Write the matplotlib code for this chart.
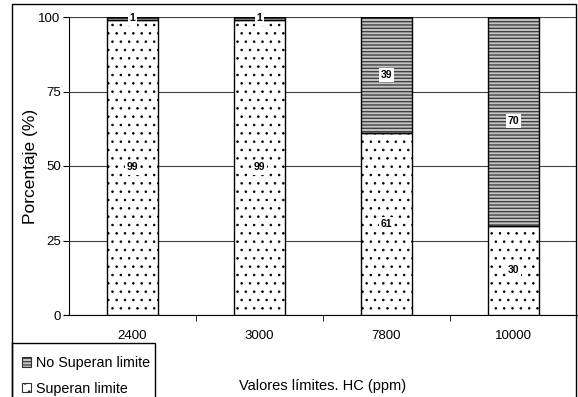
import numpy as np
import matplotlib
matplotlib.use('Agg')
import matplotlib.pyplot as plt
from matplotlib.patches import Rectangle, Patch

plt.rcParams['font.family'] = ['Liberation Sans', 'DejaVu Sans']

# datos
categorias = ['2400', '3000', '7800', '10000']
superan = [99, 99, 61, 30]
no_superan = [1, 1, 39, 70]
yticks = [0, 25, 50, 75, 100]

fig = plt.figure(figsize=(5.78, 3.97), dpi=100)
W, H = 578., 397.
ax = fig.add_axes([69 / W, 1 - 315 / H, 508 / W, 298 / H])

x = np.arange(len(categorias))
plt.rcParams['hatch.linewidth'] = 0.6
b1 = ax.bar(x, superan, width=0.4, color='white', edgecolor='black',
            hatch='..', linewidth=0, zorder=3)
plt.rcParams['hatch.linewidth'] = 1.0
b2 = ax.bar(x, no_superan, width=0.4, bottom=superan, color='#c4c4c4',
            edgecolor='#404040', hatch='-----', linewidth=0, zorder=3)
for r in b1:
    if hasattr(r, 'set_hatch_linewidth'):
        r.set_hatch_linewidth(0.6)
for r in b2:
    if hasattr(r, 'set_hatch_linewidth'):
        r.set_hatch_linewidth(1.0)
# contorno negro de cada segmento
for r in list(b1) + list(b2):
    ax.add_patch(Rectangle(r.get_xy(), r.get_width(), r.get_height(),
                           fill=False, edgecolor='black', lw=1.0, zorder=4))

lbl = dict(ha='center', va='center', fontsize=7.5, fontweight='bold', zorder=5,
           bbox=dict(boxstyle='square,pad=0.2', fc='white', ec='none'))
for i in range(len(categorias)):
    ax.text(x[i], superan[i] / 2, str(superan[i]), **lbl)
    ax.text(x[i], superan[i] + no_superan[i] / 2, str(no_superan[i]), **lbl)

ax.set_xlim(-0.5, 3.5)
ax.set_ylim(0, 100)
ax.set_yticks(yticks)
ax.set_xticks(x)
ax.set_xticklabels(categorias, fontsize=9.5)
ax.set_xticks(x[:-1] + 0.5, minor=True)
ax.tick_params(axis='x', which='major', length=0, pad=11)
ax.tick_params(axis='x', which='minor', length=4, direction='out')
ax.tick_params(axis='y', length=4, direction='out', labelsize=9.5, pad=2)
ax.yaxis.grid(True, color='#404040', lw=0.8, zorder=0)
ax.set_axisbelow(True)
for s in ['top', 'right']:
    ax.spines[s].set_visible(False)

ax.set_ylabel('Porcentaje (%)', fontsize=12.5)
ax.yaxis.set_label_coords(-0.062, 0.5)
ax.set_xlabel('Valores límites. HC (ppm)', fontsize=10.5)
ax.xaxis.set_label_coords(0.5, -0.215)

# marco exterior del grafico
fig.patches.append(Rectangle((12 / W, -0.05), 564 / W, 1.05 - 4 / H,
                             transform=fig.transFigure, fill=False,
                             edgecolor='black', lw=1.0))
# caja de la leyenda
fig.patches.append(Rectangle((12 / W, -0.05), 143 / W, 0.05 + 1 - 343 / H,
                             transform=fig.transFigure, fill=False,
                             edgecolor='black', lw=1.0))
plt.rcParams['hatch.linewidth'] = 0.8
h_no = Patch(facecolor='#c4c4c4', edgecolor='#303030', hatch='-----', lw=0.8)
h_si = Patch(facecolor='white', edgecolor='#303030', hatch='..', lw=0.8)
fig.legend([h_no, h_si], ['No Superan limite', 'Superan limite'],
           loc='upper left', bbox_to_anchor=(15 / W, 1 - 349 / H),
           frameon=False, fontsize=10.3, borderpad=0, handlelength=0.65,
           handleheight=0.65, handletextpad=0.3, labelspacing=0.8)

fig.savefig('out.png', dpi=100)
